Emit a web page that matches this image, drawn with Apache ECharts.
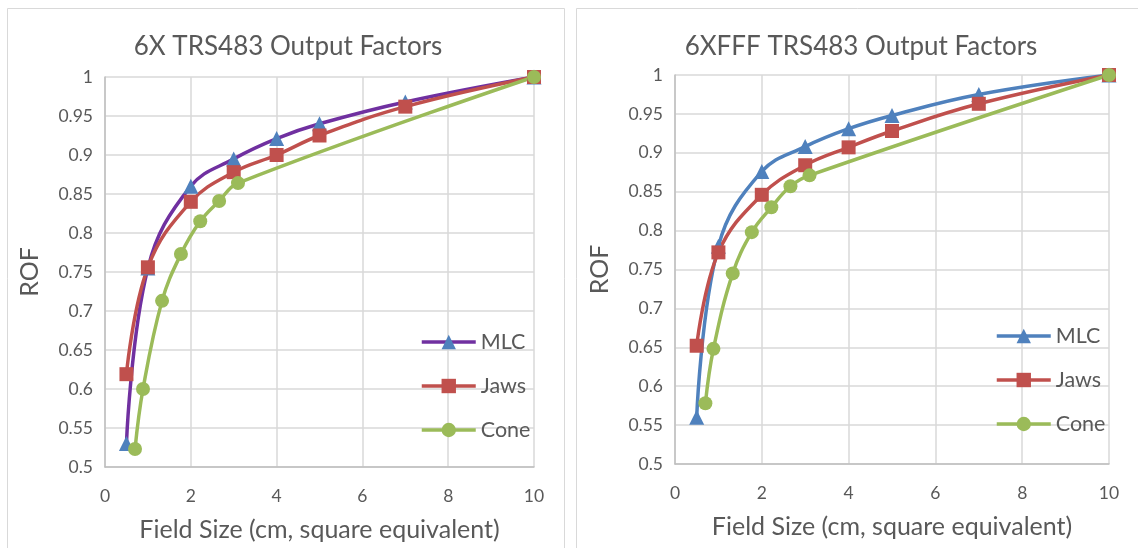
<!DOCTYPE html>
<html>
<head>
<meta charset="utf-8">
<script src="https://cdn.jsdelivr.net/npm/echarts@6/dist/echarts.min.js"></script>
<style>
html,body{margin:0;padding:0;background:#fff;}
#c{width:1138px;height:548px;}
</style>
</head>
<body>
<div id="c"></div>
<script>
// ---- Data ----
const titles = ['6X TRS483 Output Factors', '6XFFF TRS483 Output Factors'];
const seriesNames = ['MLC', 'Jaws', 'Cone'];
const fieldSizes = [0.5, 1, 2, 3, 4, 5, 7, 10];
const coneSizes = [0.7, 0.886, 1.33, 1.77, 2.22, 2.66, 3.1, 10];

const mlc6X   = [0.530, 0.755, 0.860, 0.895, 0.921, 0.940, 0.968, 1.000];
const jaws6X  = [0.619, 0.756, 0.840, 0.878, 0.900, 0.925, 0.962, 1.000];
const cone6X  = [0.523, 0.600, 0.713, 0.773, 0.815, 0.841, 0.864, 1.000];

const mlcFFF  = [0.560, 0.780, 0.876, 0.908, 0.931, 0.948, 0.975, 1.000];
const jawsFFF = [0.652, 0.772, 0.846, 0.884, 0.907, 0.928, 0.963, 1.000];
const coneFFF = [0.578, 0.648, 0.745, 0.798, 0.830, 0.857, 0.871, 1.000];

const xTicks = [0, 2, 4, 6, 8, 10];
const yTickMin = 0.5, yTickMax = 1, yTickStep = 0.05;

// ---- Build ----
const FONT = 'Lato';
const TXT = '#595959';
const GRIDC = '#D9D9D9';
const pair = (xs, ys) => xs.map((x, i) => [x, ys[i]]);

const chart = echarts.init(document.getElementById('c'), null, {renderer: 'canvas'});

const grids = [
  {left: 105, top: 77, width: 429, height: 390},
  {left: 675, top: 75, width: 434, height: 389}
];

function xAxis(i) {
  return {
    type: 'value', gridIndex: i, min: xTicks[0], max: xTicks[xTicks.length - 1], interval: 2,
    name: 'Field Size (cm, square equivalent)', nameLocation: 'middle', nameGap: 50,
    nameTextStyle: {fontFamily: FONT, fontSize: 25, color: TXT},
    axisLine: {show: true, lineStyle: {color: '#BFBFBF', width: 1.5}},
    axisTick: {show: false},
    axisLabel: {fontFamily: FONT, fontSize: 17.5, color: TXT, margin: 20},
    splitLine: {show: true, lineStyle: {color: GRIDC, width: 1.5}}
  };
}
function yAxis(i) {
  return {
    type: 'value', gridIndex: i, min: yTickMin, max: yTickMax, interval: yTickStep,
    name: 'ROF', nameLocation: 'middle', nameGap: 63, nameRotate: 90,
    nameTextStyle: {fontFamily: FONT, fontSize: 25, color: TXT},
    axisLine: {show: true, lineStyle: {color: '#BFBFBF', width: 1.5}},
    axisTick: {show: false},
    axisLabel: {fontFamily: FONT, fontSize: 17.5, color: TXT, margin: 12,
      formatter: v => String(+v.toFixed(2))},
    splitLine: {show: true, lineStyle: {color: GRIDC, width: 1.5}}
  };
}

function series(i, name, xs, ys, lineColor, markColor, symbol, size) {
  return {
    name, type: 'line', xAxisIndex: i, yAxisIndex: i,
    data: pair(xs, ys), smooth: 0.4,
    symbol, symbolSize: size, showSymbol: true,
    lineStyle: {color: lineColor, width: 3.5},
    itemStyle: {color: markColor},
    emphasis: {disabled: true}, animation: false
  };
}

const purple = '#7030A0', blue = '#4F81BD', red = '#C0504D', green = '#9BBB59';

function legend(left, top, suffix) {
  return {
    data: seriesNames.map(n => ({name: n + suffix})), orient: 'vertical', left, top,
    itemWidth: 54, itemHeight: 18, itemGap: 22,
    lineStyle: {width: 3.5},
    textStyle: {fontFamily: FONT, fontSize: 21.5, color: TXT}, selectedMode: false,
    formatter: n => n.trim()
  };
}

const option = {
  backgroundColor: '#fff',
  animation: false,
  title: [
    {text: titles[0], left: 283, top: 29, textAlign: 'center',
      textStyle: {fontFamily: FONT, fontSize: 26, fontWeight: 'normal', color: TXT}},
    {text: titles[1], left: 856, top: 29, textAlign: 'center',
      textStyle: {fontFamily: FONT, fontSize: 26, fontWeight: 'normal', color: TXT}}
  ],
  legend: [legend(415, 326, ''), legend(990, 320, ' ')],
  grid: grids,
  xAxis: [xAxis(0), xAxis(1)],
  yAxis: [yAxis(0), yAxis(1)],
  graphic: [
    {type: 'rect', shape: {x: 7.5, y: 8.5, width: 557, height: 560}, style: {fill: 'none', stroke: '#D9D9D9', lineWidth: 1}, silent: true, z: -10},
    {type: 'rect', shape: {x: 576.5, y: 8.5, width: 570, height: 560}, style: {fill: 'none', stroke: '#D9D9D9', lineWidth: 1}, silent: true, z: -10}
  ],
  series: [
    series(0, 'MLC', fieldSizes, mlc6X, purple, blue, 'triangle', 15),
    series(0, 'Jaws', fieldSizes, jaws6X, red, red, 'rect', 14),
    series(0, 'Cone', coneSizes, cone6X, green, green, 'circle', 14),
    series(1, 'MLC ', fieldSizes, mlcFFF, blue, blue, 'triangle', 15),
    series(1, 'Jaws ', fieldSizes, jawsFFF, red, red, 'rect', 14),
    series(1, 'Cone ', coneSizes, coneFFF, green, green, 'circle', 14)
  ]
};
chart.setOption(option);
</script>
</body>
</html>
